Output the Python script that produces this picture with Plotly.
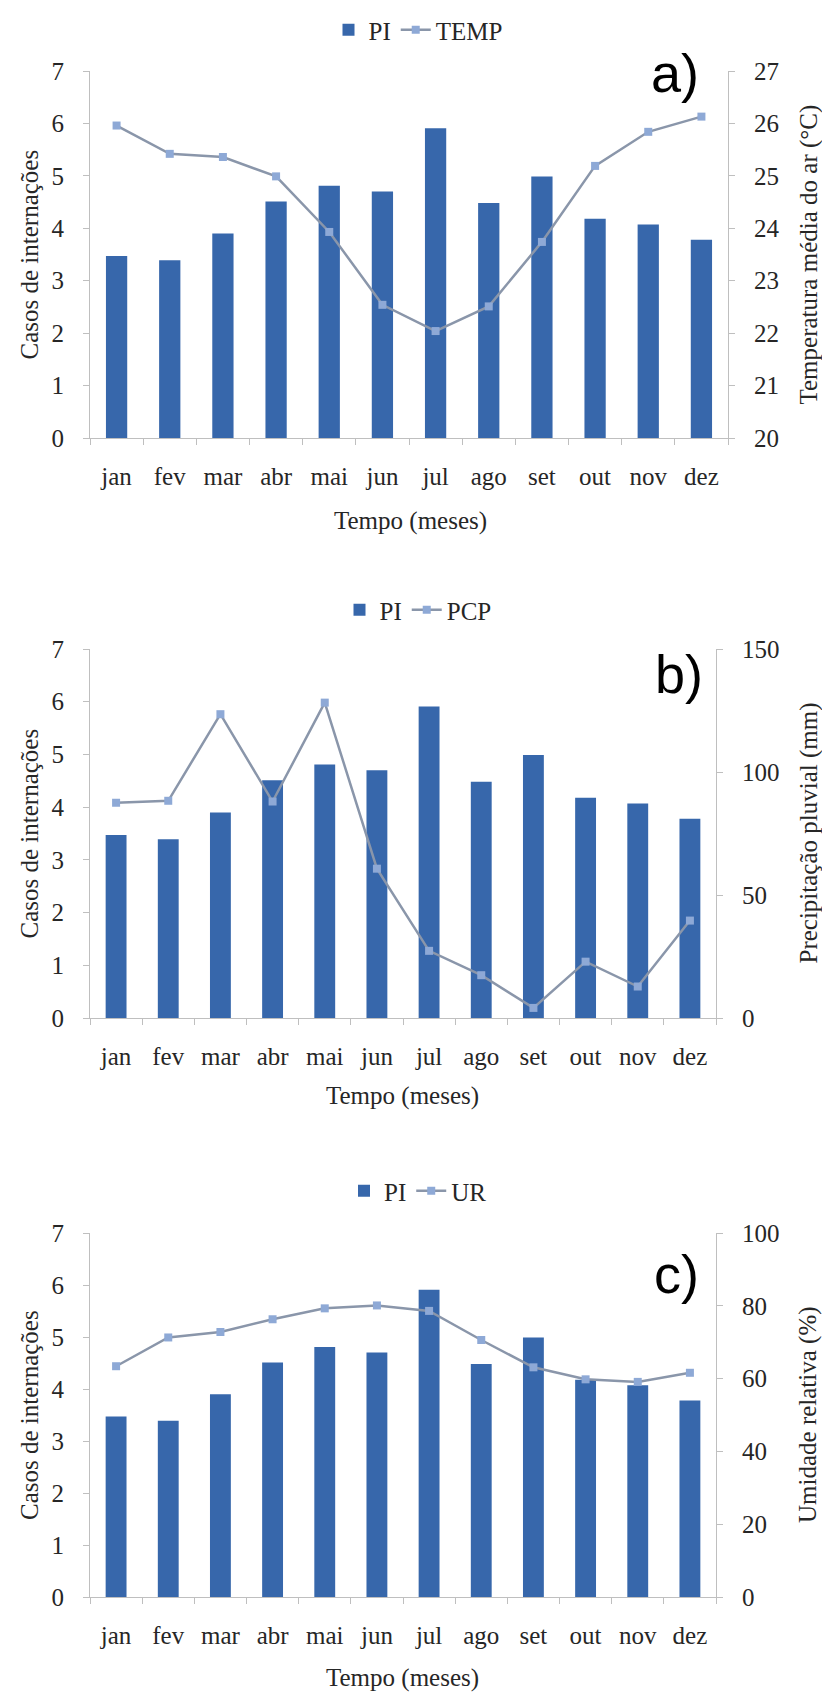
import plotly.graph_objects as go

# ---------------- data ----------------
months = ["jan", "fev", "mar", "abr", "mai", "jun", "jul", "ago", "set", "out", "nov", "dez"]
pi_cases = [3.47, 3.39, 3.90, 4.51, 4.81, 4.70, 5.91, 4.48, 4.99, 4.18, 4.07, 3.78]
temp = [25.96, 25.42, 25.36, 24.99, 23.93, 22.54, 22.04, 22.51, 23.74, 25.19, 25.84, 26.13]
pcp = [87.5, 88.3, 123.5, 88.0, 128.2, 60.7, 27.3, 17.4, 4.1, 22.9, 12.8, 39.6]
ur = [63.4, 71.3, 72.8, 76.3, 79.3, 80.1, 78.6, 70.6, 63.1, 59.8, 59.1, 61.6]

left_title = "Casos de internações"
x_title = "Tempo (meses)"
bar_name = "PI"
line_names = ["TEMP", "PCP", "UR"]
right_titles = ["Temperatura média do ar (°C)", "Precipitação pluvial (mm)", "Umidade relativa (%)"]
right_ranges = [[20, 27], [0, 150], [0, 100]]
right_dticks = [1, 50, 20]
panel_labels = ["a)", "b)", "c)"]
left_range = [0, 7]

# ---------------- styling / layout ----------------
W, H = 822, 1694
FONT = "Liberation Serif, Times New Roman, serif"
TXT = "#262626"
AX = "#BFBFBF"
BAR = "#3767AB"
LINE = "#8A96AA"
MARK = "#8EA9D6"
FS = 25


def px_y(p):
    return 1 - p / H


def px_x(p):
    return p / W


geom = [
    dict(left=90, right=728, top=71, bottom=438, leg_y=30, lab=(675, 73), xt_y=521, xt_x=410),
    dict(left=90, right=716, top=649, bottom=1018, leg_y=610, lab=(679, 674), xt_y=1096, xt_x=402),
    dict(left=90, right=716, top=1233, bottom=1597, leg_y=1191, lab=(676, 1274), xt_y=1678, xt_x=402),
]

series = [temp, pcp, ur]

fig = go.Figure()
layout = dict(
    width=W, height=H,
    margin=dict(l=0, r=0, t=0, b=0),
    paper_bgcolor="white", plot_bgcolor="white",
    font=dict(family=FONT, size=FS, color=TXT),
    showlegend=True,
    annotations=[],
)

for i in range(3):
    g = geom[i]
    xa = "x" if i == 0 else f"x{i+1}"
    ya = f"y{2*i+1}" if i > 0 else "y"
    ya2 = f"y{2*i+2}"
    leg = "legend" if i == 0 else f"legend{i+1}"

    fig.add_trace(go.Bar(
        x=months, y=pi_cases, name=bar_name, width=0.4,
        marker=dict(color=BAR, line=dict(width=0)),
        xaxis=xa, yaxis=ya, legend=leg,
    ))
    fig.add_trace(go.Scatter(
        x=months, y=series[i], name=line_names[i], mode="lines+markers",
        line=dict(color=LINE, width=2.5),
        marker=dict(symbol="square", size=8, color=MARK),
        xaxis=xa, yaxis=ya2, legend=leg,
    ))

    xkey = "xaxis" if i == 0 else f"xaxis{i+1}"
    ykey = "yaxis" if i == 0 else f"yaxis{2*i+1}"
    y2key = f"yaxis{2*i+2}"
    dom_x = [px_x(g["left"]), px_x(g["right"])]
    dom_y = [px_y(g["bottom"]), px_y(g["top"])]

    layout[xkey] = dict(
        domain=dom_x, anchor=ya, type="category", range=[-0.5, 11.5],
        tickson="boundaries", ticks="outside", ticklen=6, tickcolor=AX,
        showline=True, linecolor=AX, linewidth=1, showgrid=False, zeroline=False,
        tickfont=dict(family=FONT, size=FS, color=TXT), ticklabelstandoff=16,
        automargin=False, fixedrange=True,
    )
    layout[ykey] = dict(
        domain=dom_y, anchor=xa, range=left_range, dtick=1, tick0=0,
        ticks="outside", ticklen=6, tickcolor=AX,
        showline=True, linecolor=AX, linewidth=1, showgrid=False, zeroline=False,
        tickfont=dict(family=FONT, size=FS, color=TXT), ticklabelstandoff=14,
        automargin=False,
    )
    layout[y2key] = dict(
        overlaying=ya, side="right", anchor=xa, range=right_ranges[i],
        dtick=right_dticks[i], tick0=0,
        ticks="outside", ticklen=6, tickcolor=AX,
        showline=True, linecolor=AX, linewidth=1, showgrid=False, zeroline=False,
        tickfont=dict(family=FONT, size=FS, color=TXT), ticklabelstandoff=14,
        automargin=False,
    )
    layout[leg] = dict(
        orientation="h", x=px_x(418), xanchor="center", y=px_y(g["leg_y"]), yanchor="middle",
        font=dict(family=FONT, size=FS, color=TXT), bgcolor="rgba(0,0,0,0)",
        itemwidth=30, tracegroupgap=0,
    )

    mid_y = px_y((g["top"] + g["bottom"]) / 2)
    layout["annotations"] += [
        dict(text=left_title, x=px_x(29), y=mid_y, xref="paper", yref="paper",
             textangle=-90, showarrow=False, xanchor="center", yanchor="middle",
             font=dict(family=FONT, size=FS, color=TXT)),
        dict(text=right_titles[i], x=px_x(808), y=mid_y, xref="paper", yref="paper",
             textangle=-90, showarrow=False, xanchor="center", yanchor="middle",
             font=dict(family=FONT, size=FS, color=TXT)),
        dict(text=x_title, x=px_x(g["xt_x"]), y=px_y(g["xt_y"]), xref="paper", yref="paper",
             showarrow=False, xanchor="center", yanchor="middle",
             font=dict(family=FONT, size=FS, color=TXT)),
        dict(text=panel_labels[i], x=px_x(g["lab"][0]), y=px_y(g["lab"][1]), xref="paper", yref="paper",
             showarrow=False, xanchor="center", yanchor="middle",
             font=dict(family="Liberation Sans, Arial, sans-serif", size=54, color="#000000")),
    ]

fig.update_layout(**layout)
fig.write_html("out.html")
